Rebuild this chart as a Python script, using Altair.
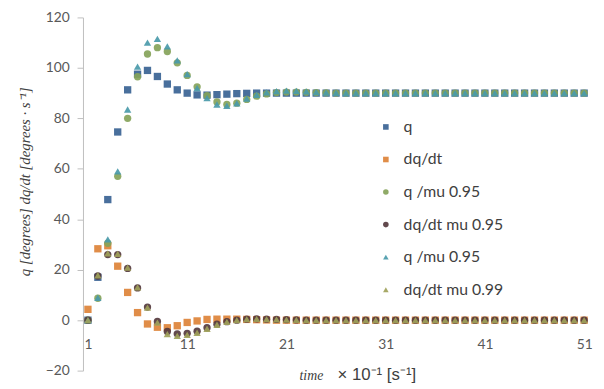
import altair as alt
import pandas as pd

x_vals = list(range(1, 52))

q = [0, 17, 47.8, 74.6, 91.3, 97.5, 99, 96.6, 93.6, 91.3,
     90, 89.3, 89.2, 89.4, 89.6, 89.8, 89.9, 90, 90, 90,
     90, 90, 90, 90, 90, 90, 90, 90, 90, 90,
     90, 90, 90, 90, 90, 90, 90, 90, 90, 90,
     90, 90, 90, 90, 90, 90, 90, 90, 90, 90, 90]
dq = [4.3, 28.3, 29.5, 21.4, 11, 3, -1.5, -2.8, -3, -2.2,
      -0.9, -0.3, 0.3, 0.4, 0.4, 0.4, 0.3, 0.2, 0.1, 0,
      0, 0, 0, 0, 0, 0, 0, 0, 0, 0,
      0, 0, 0, 0, 0, 0, 0, 0, 0, 0,
      0, 0, 0, 0, 0, 0, 0, 0, 0, 0, 0]
q_mu95_c = [0, 8.7, 30.5, 57, 80, 96.5, 105.5, 108, 106.5, 102,
            97, 92.5, 89, 86.5, 85.5, 86, 87.5, 88.8, 89.7, 90.2,
            90.4, 90.4, 90.3, 90.2, 90.1, 90, 90, 90, 90, 90,
            90, 90, 90, 90, 90, 90, 90, 90, 90, 90,
            90, 90, 90, 90, 90, 90, 90, 90, 90, 90, 90]
dq_mu95 = [0, 17.5, 26, 26, 20.5, 12.8, 5.2, -0.5, -4.5, -5.4,
           -5.2, -4.4, -3, -1.6, -0.6, 0, 0.4, 0.5, 0.4, 0.3,
           0.2, 0.1, 0, 0, 0, 0, 0, 0, 0, 0,
           0, 0, 0, 0, 0, 0, 0, 0, 0, 0,
           0, 0, 0, 0, 0, 0, 0, 0, 0, 0, 0]
q_mu95_t = [0, 8.9, 32, 59, 83.5, 100.5, 110, 111.5, 108.5, 103,
            97.5, 92, 88, 85.5, 85, 86, 87.8, 89.3, 90.3, 90.8,
            91, 90.9, 90.7, 90.4, 90.2, 90.1, 90, 90, 90, 90,
            90, 90, 90, 90, 90, 90, 90, 90, 90, 90,
            90, 90, 90, 90, 90, 90, 90, 90, 90, 90, 90]
dq_mu99 = [0, 17.8, 26.5, 26.3, 20.8, 13, 5, -1, -5.5, -6.2,
           -5.8, -5, -3.4, -1.8, -0.7, 0, 0.4, 0.5, 0.4, 0.3,
           0.2, 0.1, 0, 0, 0, 0, 0, 0, 0, 0,
           0, 0, 0, 0, 0, 0, 0, 0, 0, 0,
           0, 0, 0, 0, 0, 0, 0, 0, 0, 0, 0]

keys = ["s1", "s2", "s3", "s4", "s5", "s6"]
names = ["q", "dq/dt", "q /mu 0.95", "dq/dt mu 0.95", "q /mu 0.95", "dq/dt mu 0.99"]
colors = ["#3A6394", "#DD8338", "#86A35A", "#553A3E", "#4A9AAA", "#9FA25A"]
shapes = ["square", "square", "circle", "circle", "triangle-up", "triangle-up"]
series = [q, dq, q_mu95_c, dq_mu95, q_mu95_t, dq_mu99]
x_ticks = [1, 11, 21, 31, 41, 51]
y_ticks = [-20, 0, 20, 40, 60, 80, 100, 120]

rows = []
for k, vals in zip(keys, series):
    for xv, v in zip(x_vals, vals):
        rows.append({"t": xv, "v": v, "s": k})
df = pd.DataFrame(rows)

label_expr = " : ".join(
    f"datum.label == '{k}' ? '{n}'" for k, n in zip(keys[:-1], names[:-1])
) + f" : '{names[-1]}'"

legend = alt.Legend(
    title=None, orient="none", legendX=299, legendY=103,
    labelExpr=label_expr, labelFont="Lato", labelFontSize=16,
    labelColor="#404040", symbolSize=32, rowPadding=17, labelOffset=10,
)

font = "Lato"
PW, PH = 513, 358

points = alt.Chart(df).mark_point(filled=True, opacity=0.92, size=55).encode(
    x=alt.X("t:Q", scale=alt.Scale(domain=[0.5, 51.5], nice=False, zero=False),
            axis=alt.Axis(values=x_ticks, offset=-(PH * 20 / 140), domain=False,
                          ticks=False, grid=False, labelPadding=18,
                          labelFont=font, labelFontSize=14, labelColor="#595959",
                          title="time", titleFont="Liberation Serif",
                          titleFontStyle="italic", titleFontWeight="normal",
                          titleFontSize=14, titleColor="#404040",
                          titleAlign="left", titleBaseline="middle",
                          titleX=219, titleY=56)),
    y=alt.Y("v:Q", scale=alt.Scale(domain=[-20, 120], nice=False),
            axis=alt.Axis(values=y_ticks, grid=False, domainColor="#BFBFBF",
                          tickColor="#BFBFBF", tickSize=6, labelPadding=8,
                          labelFont=font, labelFontSize=14, labelColor="#595959",
                          title="q [degrees]   dq/dt [degrees · s⁻¹]",
                          titleFont="Liberation Serif", titleFontStyle="italic",
                          titleFontWeight="normal", titleFontSize=15,
                          titleColor="#404040", titleAngle=270,
                          titleAlign="center", titleBaseline="middle",
                          titleX=-59, titleY=166)),
    color=alt.Color("s:N", scale=alt.Scale(domain=keys, range=colors), legend=legend),
    shape=alt.Shape("s:N", scale=alt.Scale(domain=keys, range=shapes), legend=legend),
)

unit_text = alt.Chart(pd.DataFrame({"txt": ["× 10⁻¹ [s⁻¹]"]})).mark_text(
    align="left", baseline="middle", font="Liberation Sans", fontSize=17,
    color="#404040",
).encode(x=alt.value(258), y=alt.value(362), text="txt:N")

chart = alt.layer(points, unit_text).properties(
    width=PW, height=PH,
    autosize=alt.AutoSizeParams(type="none"),
    padding={"left": 76, "top": 7, "right": 7, "bottom": 12},
    background="white",
).configure_view(stroke=None)

chart.save("out.html", embed_options={"renderer": "svg", "actions": False})
